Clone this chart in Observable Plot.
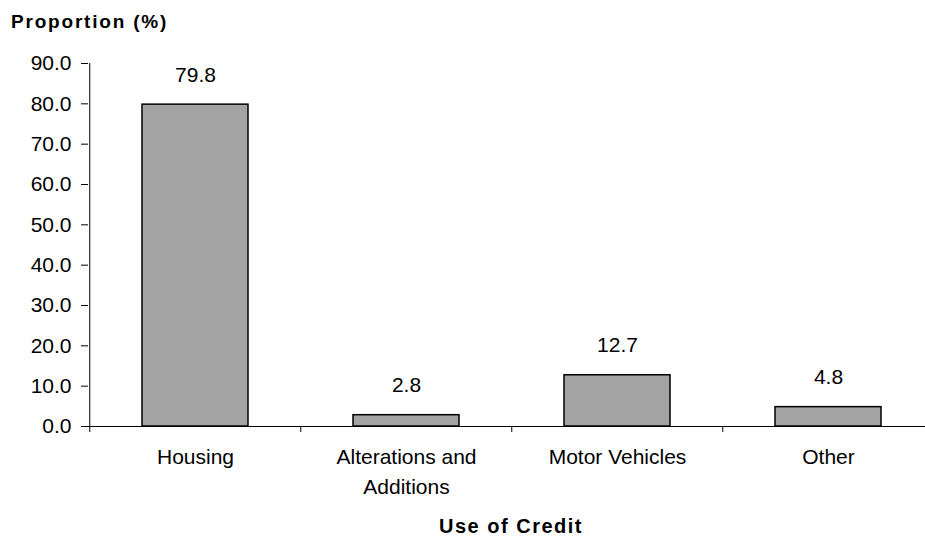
<!DOCTYPE html>
<html><head><meta charset="utf-8">
<script src="https://cdn.jsdelivr.net/npm/d3@7"></script>
<script src="https://cdn.jsdelivr.net/npm/@observablehq/plot@0.6"></script>
<style>
body{margin:0;background:#fff;font-family:"Liberation Sans",Arial,sans-serif;}
#wrap{position:relative;width:925px;height:537px;overflow:hidden;background:#fff;}
.t{position:absolute;font-weight:bold;color:#000;white-space:nowrap;font-family:"Liberation Sans",Arial,sans-serif;}
#ytitle{left:11px;top:12px;font-size:19px;line-height:19px;letter-spacing:1.8px;}
#xtitle{left:411px;top:517px;width:200px;text-align:center;font-size:20px;line-height:18px;letter-spacing:1.5px;}
</style></head><body><div id="wrap"></div>
<script>
const categories = ["Housing", "Alterations and Additions", "Motor Vehicles", "Other"];
const tickLabels = ["Housing", "Alterations and\nAdditions", "Motor Vehicles", "Other"];
const values = [79.8, 2.8, 12.7, 4.8];
const valueLabels = ["79.8", "2.8", "12.7", "4.8"];
const yTicks = [0, 10, 20, 30, 40, 50, 60, 70, 80, 90];
const yTitle = "Proportion (%)";
const xTitle = "Use of Credit";

const data = categories.map((c, i) => ({category: c, value: values[i], label: valueLabels[i], tick: tickLabels[i]}));
const W = 925, H = 537, mL = 88, mR = -9, mT = 63, mB = 111;
const step = (W - mR - mL) / categories.length;

const chart = Plot.plot({
  width: W, height: H, marginLeft: mL, marginRight: mR, marginTop: mT, marginBottom: mB,
  style: {fontFamily: "Liberation Sans, Arial, sans-serif", fontSize: "21px", color: "#000", background: "#fff", overflow: "visible"},
  x: {domain: categories, paddingInner: 0.5, paddingOuter: 0.25},
  y: {domain: [0, 90]},
  marks: [
    Plot.barY(data, {x: "category", y: "value", fill: "#a3a3a3", stroke: "#000", strokeWidth: 1.5}),
    Plot.ruleY([0], {stroke: "#000", strokeWidth: 1}),
    Plot.ruleX([categories[0]], {x: d => d, y1: 0, y2: 90, dx: -step / 2, stroke: "#000", strokeWidth: 1}),
    Plot.axisY({ticks: yTicks, tickFormat: d => d.toFixed(1), tickSize: 7, tickPadding: 10, label: null, fontSize: 21}),
    Plot.axisX({tickSize: 6, dx: -step / 2, tickFormat: () => "", label: null}),
    Plot.text(data, {x: "category", y: "value", text: "label", lineAnchor: "bottom", dy: -23, fontSize: 21}),
    Plot.text(data, {x: "category", frameAnchor: "bottom", text: "tick", lineAnchor: "top", lineHeight: 1.4, dy: 17, fontSize: 21})
  ]
});
const wrap = document.getElementById("wrap");
wrap.appendChild(chart);
const yt = document.createElement("div"); yt.className = "t"; yt.id = "ytitle"; yt.textContent = yTitle; wrap.appendChild(yt);
const xt = document.createElement("div"); xt.className = "t"; xt.id = "xtitle"; xt.textContent = xTitle; wrap.appendChild(xt);
</script></body></html>
